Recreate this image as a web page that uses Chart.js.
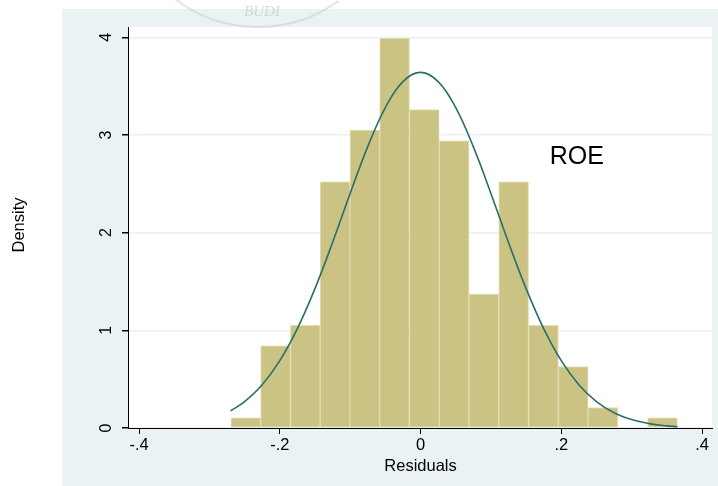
<!DOCTYPE html>
<html>
<head>
<meta charset="utf-8">
<script src="https://cdn.jsdelivr.net/npm/chart.js@4"></script>
<style>
  html, body { margin: 0; padding: 0; background: #fff; }
  #wrap { width: 718px; height: 486px; position: relative; }
</style>
</head>
<body>
<div id="wrap"><canvas id="chart"></canvas></div>
<script>
// Histogram of residuals (15 bins) with normal density overlay
const binStart = -0.2695;
const binWidth = 0.0423;
const binDensity = [0.105, 0.84, 1.05, 2.52, 3.05, 3.99, 3.26, 2.94, 1.37, 2.52, 1.05, 0.63, 0.21, 0, 0.105];

// normal curve
const curveX = [-0.27, -0.25, -0.225, -0.2, -0.175, -0.15, -0.125, -0.1, -0.075, -0.05, -0.025, 0,
  0.025, 0.05, 0.075, 0.1, 0.125, 0.15, 0.175, 0.2, 0.225, 0.25, 0.275, 0.3, 0.325, 0.35, 0.365];
const curveY = [0.175, 0.27, 0.443, 0.689, 1.017, 1.427, 1.899, 2.401, 2.88, 3.28, 3.546, 3.64,
  3.546, 3.28, 2.88, 2.401, 1.899, 1.427, 1.017, 0.689, 0.443, 0.27, 0.156, 0.086, 0.045, 0.022, 0.014];

const xTicks = [-0.4, -0.2, 0, 0.2, 0.4];
const xTickLabels = ["-.4", "-.2", "0", ".2", ".4"];
const yTicks = [0, 1, 2, 3, 4];
const yTickLabels = ["0", "1", "2", "3", "4"];

const FONT = "'Liberation Sans', Arial, sans-serif";

const binData = binDensity.map((d, i) => ({ x: binStart + binWidth * (i + 0.5), y: d }));
const curveData = curveX.map((x, i) => ({ x: x, y: curveY[i] }));

// background panels, labels that Chart.js can't place the Stata way
const stataLook = {
  id: "stataLook",
  beforeDraw(chart) {
    const ctx = chart.ctx;
    const a = chart.chartArea;
    ctx.save();
    ctx.fillStyle = "#ffffff";
    ctx.fillRect(0, 0, chart.width, chart.height);
    ctx.fillStyle = "#eaf2f3";
    ctx.fillRect(62, 9, chart.width - 62, chart.height - 9);
    ctx.fillStyle = "#ffffff";
    ctx.fillRect(a.left, a.top, a.right - a.left, a.bottom - a.top);

    // faint stamp at the top
    ctx.strokeStyle = "rgba(205,205,205,0.55)";
    ctx.lineWidth = 2;
    ctx.beginPath();
    ctx.arc(258, -110, 137, 0.3 * Math.PI, 0.72 * Math.PI);
    ctx.stroke();
    ctx.fillStyle = "rgba(195,195,195,0.6)";
    ctx.font = "italic 15px 'Liberation Serif', serif";
    ctx.textAlign = "center";
    ctx.textBaseline = "middle";
    ctx.fillText("BUDI", 262, 12);
    ctx.restore();
  },
  afterDraw(chart) {
    const ctx = chart.ctx;
    const ys = chart.scales.y;
    const xs = chart.scales.x;
    ctx.save();
    ctx.fillStyle = "#000";
    ctx.textAlign = "center";
    ctx.textBaseline = "middle";

    // rotated y tick labels
    ctx.font = "16px " + FONT;
    yTicks.forEach((v, i) => {
      ctx.save();
      ctx.translate(107, ys.getPixelForValue(v));
      ctx.rotate(-Math.PI / 2);
      ctx.fillText(yTickLabels[i], 0, 0);
      ctx.restore();
    });

    // axis titles
    ctx.font = "16.5px " + FONT;
    ctx.save();
    ctx.translate(19, 225);
    ctx.rotate(-Math.PI / 2);
    ctx.fillText("Density", 0, 0);
    ctx.restore();
    ctx.fillText("Residuals", xs.getPixelForValue(0), 466);

    // ROE note
    ctx.font = "25px " + FONT;
    ctx.textAlign = "left";
    ctx.textBaseline = "alphabetic";
    ctx.fillText("ROE", xs.getPixelForValue(0.1836), ys.getPixelForValue(2.7));
    ctx.restore();
  },
};

new Chart(document.getElementById("chart"), {
  type: "bar",
  data: {
    datasets: [
      {
        type: "line",
        data: curveData,
        borderColor: "#2b6e68",
        borderWidth: 1.6,
        pointRadius: 0,
        tension: 0.4,
        fill: false,
      },
      {
        type: "bar",
        data: binData,
        backgroundColor: "#cbc384",
        borderColor: "#e3ddb2",
        borderWidth: 1,
        borderSkipped: false,
        barPercentage: 1,
        categoryPercentage: 1,
      },
    ],
  },
  plugins: [stataLook],
  options: {
    responsive: true,
    maintainAspectRatio: false,
    animation: false,
    layout: { padding: { top: 27, right: 6, left: 0, bottom: 0 } },
    plugins: {
      legend: { display: false },
      tooltip: { enabled: false },
    },
    scales: {
      x: {
        type: "linear",
        min: -0.4157,
        max: 0.4142,
        offset: false,
        afterBuildTicks: (scale) => {
          scale.ticks = xTicks.map((v) => ({ value: v }));
        },
        afterFit: (scale) => {
          scale.height = 58;
        },
        ticks: {
          color: "#000",
          font: { family: FONT, size: 16.5 },
          padding: 2,
          maxRotation: 0,
          autoSkip: false,
          callback: (v) => xTickLabels[xTicks.indexOf(v)],
        },
        grid: {
          offset: false,
          drawOnChartArea: false,
          tickColor: "#000",
          tickLength: 6,
        },
        border: { display: true, color: "#000", width: 1 },
      },
      y: {
        min: 0,
        max: 4.105,
        afterBuildTicks: (scale) => {
          scale.ticks = yTicks.map((v) => ({ value: v }));
        },
        afterFit: (scale) => {
          scale.width = 128;
        },
        ticks: { display: false },
        grid: {
          color: "#e8f0f0",
          tickColor: "#000",
          tickLength: 6,
          lineWidth: 1.5,
        },
        border: { display: true, color: "#000", width: 1 },
      },
    },
  },
});
</script>
</body>
</html>
